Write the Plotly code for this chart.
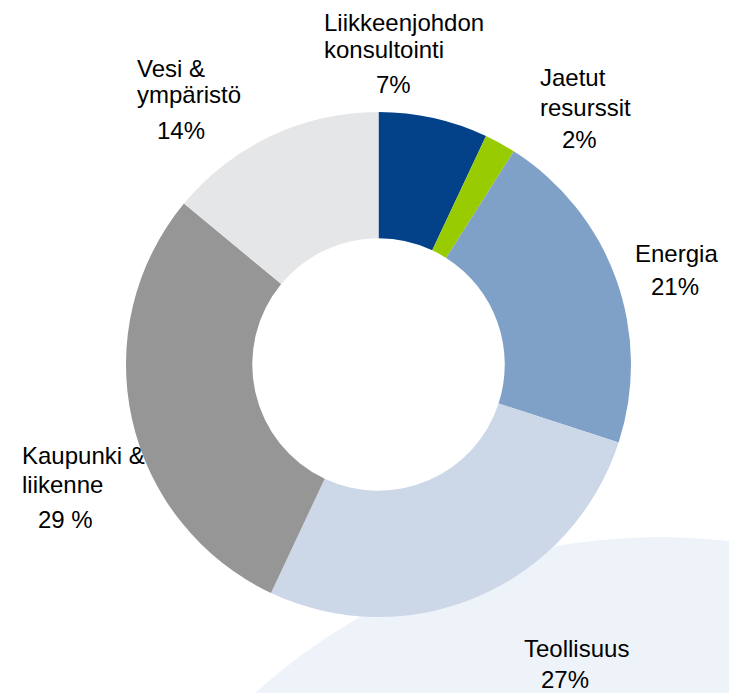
import plotly.graph_objects as go

# ---- data ----
segments = ["Liikkeenjohdon konsultointi", "Jaetut resurssit", "Energia",
            "Teollisuus", "Kaupunki & liikenne", "Vesi & ympäristö"]
shares = [7, 2, 21, 27, 29, 14]
name_lines = [["Liikkeenjohdon", "konsultointi"], ["Jaetut", "resurssit"], ["Energia"],
              ["Teollisuus"], ["Kaupunki &", "liikenne"], ["Vesi &", "ympäristö"]]
pct_labels = ["7%", "2%", "21%", "27%", "29 %", "14%"]
colors = ["#034289", "#99CC00", "#7FA1C7", "#CCD8E8", "#969696", "#E5E6E8"]

W, H = 729, 693

def px(x):
    return x / W

def py(y):
    return (H - y) / H

fig = go.Figure()

# donut
cx, cy, r = 378.5, 364.5, 252.5
fig.add_trace(go.Pie(
    labels=segments,
    values=shares,
    sort=False,
    direction="clockwise",
    rotation=0,
    hole=0.5,
    marker=dict(colors=colors, line=dict(width=0)),
    textinfo="none",
    hoverinfo="label+percent",
    showlegend=False,
    domain=dict(x=[px(cx - r), px(cx + r)], y=[py(cy + r), py(cy - r)]),
))

# decorative background circle (bottom right)
bcx, bcy, br = 660, 1140, 603
fig.add_shape(type="circle", xref="paper", yref="paper", layer="below",
              x0=px(bcx - br), x1=px(bcx + br), y0=py(bcy + br), y1=py(bcy - br),
              fillcolor="#EEF3FA", line=dict(width=0))

# label layout: (name x, name anchor, name line centre ys, pct centre x, pct centre y)
label_pos = [
    (323, "left", [22, 49], 394, 84),
    (539, "left", [78, 107], 579, 140),
    (676, "center", [254], 675, 286),
    (576, "center", [648], 565, 679),
    (21, "left", [456, 484], 65, 519),
    (136, "left", [69, 95], 181, 131),
]
font = dict(family="Liberation Sans, Arial, sans-serif", size=24, color="#000000")
for (nx, anc, nys, ppx, ppy), lines, pc in zip(label_pos, name_lines, pct_labels):
    for ln, ny in zip(lines, nys):
        fig.add_annotation(text=ln, xref="paper", yref="paper", x=px(nx), y=py(ny),
                           xanchor=anc, yanchor="middle", showarrow=False,
                           font=font, borderpad=0)
    fig.add_annotation(text=pc, xref="paper", yref="paper", x=px(ppx), y=py(ppy),
                       xanchor="center", yanchor="middle", showarrow=False,
                       font=font, borderpad=0)

fig.update_layout(
    width=W, height=H,
    margin=dict(l=0, r=0, t=0, b=0),
    paper_bgcolor="white",
    plot_bgcolor="white",
)

fig.write_html("out.html")
